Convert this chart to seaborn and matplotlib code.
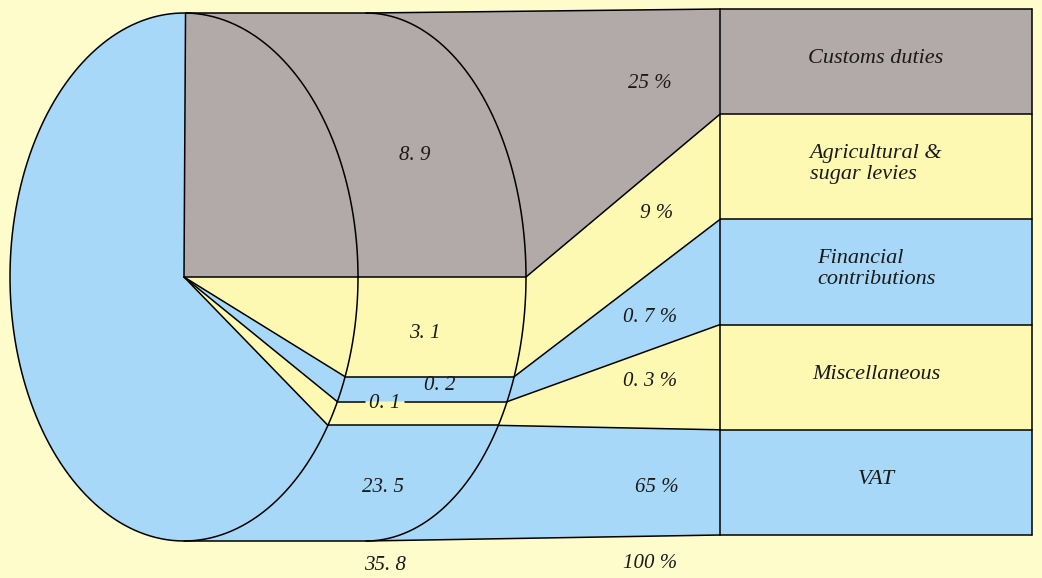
import numpy as np
import pandas as pd
import matplotlib
matplotlib.use("Agg")
import matplotlib.pyplot as plt
from matplotlib.patches import Polygon, Rectangle
import seaborn as sns

# Revenue by source (bn ECU) and each source's share of the total
sources = ["Customs duties", "Agricultural &\nsugar levies", "Financial\ncontributions",
           "Miscellaneous", "VAT"]
amounts = [8.9, 3.1, 0.2, 0.1, 23.5]
shares_pct = [25, 9, 0.7, 0.3, 65]
total_pct = 100

# Styling
BG = "#fdfcca"
GRAY = "#b2a9a9"
YELLOW = "#fdf9b2"
BLUE = "#a7d8f8"
source_colors = [GRAY, YELLOW, BLUE, YELLOW, BLUE]
LW = 1.1

# Cylinder geometry (axes units = pixels, y pointing down)
FRONT_CX, BACK_CX, CY = 184.0, 366.0, 277.0
RX_F, RX_B, RY = 174.0, 160.0, 264.0
BOX_X0, BOX_X1, BOX_TOP, BOX_BOTTOM = 720.0, 1032.0, 9.0, 535.0
MIN_ANGLE = 6.0  # thin slices are widened so they stay legible

sns.set_theme(style="white")
plt.rcParams["font.family"] = ["Liberation Serif", "DejaVu Serif"]

total = float(np.sum(amounts))

# slice angles, widening the very thin ones at the expense of the slice above
angles = [a / total * 360.0 for a in amounts]
for i in range(len(angles)):
    if angles[i] < MIN_ANGLE:
        extra = MIN_ANGLE - angles[i]
        angles[i] = MIN_ANGLE
        j = i - 1
        while j > 0 and angles[j] < 2 * MIN_ANGLE:
            j -= 1
        angles[j] -= extra

# first slice ends on the horizontal, the rest run clockwise
edges = [-angles[0]]
for a in angles:
    edges.append(edges[-1] + a)

rows = np.linspace(BOX_TOP, BOX_BOTTOM, len(sources) + 1)
apex = (FRONT_CX, CY)


def front(t):
    r = np.radians(t)
    return (FRONT_CX + RX_F * np.cos(r), CY + RY * np.sin(r))


def back(t):
    r = np.radians(t)
    return (BACK_CX + RX_B * np.cos(r), CY + RY * np.sin(r))


fig = plt.figure(figsize=(10.42, 5.78), dpi=100)
fig.patch.set_facecolor(BG)
ax = fig.add_axes([0, 0, 1, 1])
ax.set_facecolor(BG)

# filled slices: pie wedge, extrusion along the cylinder, funnel into its row
for i, (t0, t1) in enumerate(zip(edges[:-1], edges[1:])):
    pts = [apex, front(t0), back(t0), (BOX_X0, rows[i]), (BOX_X0, rows[i + 1])]
    t1c = min(t1, 90.0)
    pts += [back(t1c), front(t1c)]
    if t1 > 90.0:
        pts += [front(t) for t in np.linspace(90.0, t1, 120)]
    pts.append(apex)
    ax.add_patch(Polygon(pts, closed=True, facecolor=source_colors[i],
                         edgecolor="none", zorder=1))
    ax.add_patch(Rectangle((BOX_X0, rows[i]), BOX_X1 - BOX_X0, rows[i + 1] - rows[i],
                           facecolor=source_colors[i], edgecolor="none", zorder=1))

# outline segments
segments = []
gap_label = 3  # amount label that sits on its slice's upper edge
gap_half = 20
amount_pos = [(415, 155), (425, 333), (440, 385), (385, 403), (383, 487)]

for k, t in enumerate(edges[:-1]):
    f, b = front(t), back(t)
    segments.append([apex, f])
    if k == gap_label:
        lx = amount_pos[k][0]
        segments.append([f, (lx - gap_half, f[1])])
        segments.append([(lx + gap_half, b[1]), b])
    else:
        segments.append([f, b])
    segments.append([b, (BOX_X0, rows[k])])

# bottom silhouette
segments.append([front(90.0), back(90.0), (BOX_X0, BOX_BOTTOM)])
# front face ellipse and the visible half of the far one
segments.append([front(t) for t in np.linspace(0, 360, 400)])
segments.append([back(t) for t in np.linspace(-90, 90, 200)])
# table of sources
segments.append([(BOX_X0, BOX_TOP), (BOX_X0, BOX_BOTTOM)])
segments.append([(BOX_X1, BOX_TOP), (BOX_X1, BOX_BOTTOM)])
for y in rows:
    segments.append([(BOX_X0, y), (BOX_X1, y)])

df = pd.DataFrame(
    [(s, x, y) for s, seg in enumerate(segments) for (x, y) in seg],
    columns=["seg", "x", "y"],
)
sns.lineplot(data=df, x="x", y="y", units="seg", estimator=None, sort=False,
             color="black", linewidth=LW, ax=ax, zorder=3)


def fmt(v):
    return f"{v:g}".replace(".", ". ")


txt = dict(style="italic", color="#1a1a1a", zorder=4)
pct_pos = [(650, 83), (657, 213), (650, 318), (650, 382), (657, 487)]

for i, src in enumerate(sources):
    ax.text(*amount_pos[i], fmt(amounts[i]), fontsize=15, ha="center", va="center", **txt)
    ax.text(*pct_pos[i], f"{fmt(shares_pct[i])} %", fontsize=15, ha="center",
            va="center", **txt)
    yc = (rows[i] + rows[i + 1]) / 2 - 3
    ax.text((BOX_X0 + BOX_X1) / 2, yc, src, fontsize=16, ha="center", va="center",
            multialignment="left", linespacing=1.1, **txt)

ax.text(385, 566, fmt(round(total, 1)), fontsize=15, ha="center", va="center", **txt)
ax.text(650, 563, f"{total_pct} %", fontsize=15, ha="center", va="center", **txt)

ax.set_xlim(0, 1042)
ax.set_ylim(578, 0)
ax.axis("off")

fig.savefig("out.png", dpi=100, facecolor=BG)
